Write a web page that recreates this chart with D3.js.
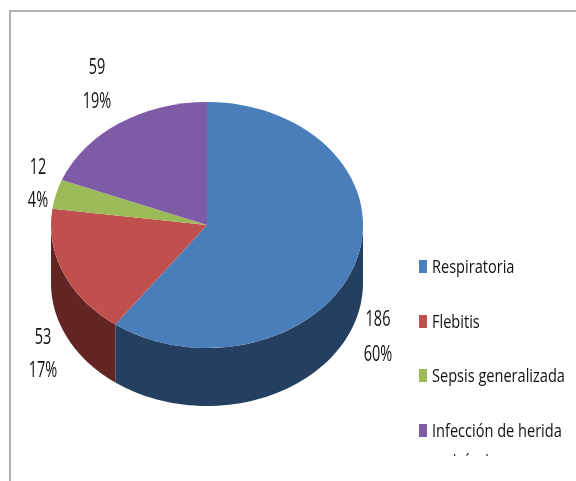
<!DOCTYPE html>
<html lang="en">
<head>
    <meta charset="UTF-8">
    <title>Infecciones</title>
    <script src="https://d3js.org/d3.v7.min.js"></script>
    <style>
        html, body { margin: 0; padding: 0; background: #fff; }
        svg { display: block; }
        text { font-family: "Open Sans", sans-serif; fill: #111; filter: blur(0.35px); }
    </style>
</head>
<body>
<svg width="576" height="481"></svg>
<script>

    const categories = ["Respiratoria", "Flebitis", "Sepsis generalizada", "Infección de herida quirúrgica"];
    const values = [186, 53, 12, 59];
    const percents = ["60%", "17%", "4%", "19%"];
    const topColors = ["#4a7ebb", "#c0504d", "#9bbb59", "#7d5ba6"];
    const sideColors = ["#243f60", "#632523", "#4f6228", "#3f2d54"];

    const w = 576, h = 481;
    const cx = 207, cy = 225, rx = 156, ry = 123, depth = 58;

    // label positions, one per category
    const labelX = [378, 43, 38, 97];
    const valueY = [326, 344, 174, 74];
    const percentY = [361, 377, 207, 108];
    const legendY = [273, 328, 382, 437];

    const narrowLabel = 0.69, narrowLegend = 0.81;

    const svg = d3.select("svg");

    // frame, open on the right and bottom
    svg.append("path")
        .attr("d", d3.line()([[w, 11], [10, 11], [10, h]]))
        .attr("fill", "none")
        .attr("stroke", "#999")
        .attr("stroke-width", 1.5);

    const slices = d3.pie().sort(null)(values);
    const arc = d3.arc().innerRadius(0).outerRadius(rx);
    const squash = ry / rx;

    // walls: only the front half of the ellipse is visible
    const wall = d3.area()
        .x(a => cx + rx * Math.sin(a))
        .y0(a => cy - ry * Math.cos(a))
        .y1(a => cy - ry * Math.cos(a) + depth);

    slices.forEach((s, i) => {
        const start = Math.max(s.startAngle, Math.PI / 2);
        const end = Math.min(s.endAngle, 3 * Math.PI / 2);
        if (end <= start) return;
        svg.append("path")
            .attr("d", wall(d3.range(0, 61).map(k => start + (end - start) * k / 60)))
            .attr("fill", sideColors[i]);
    });

    svg.append("g")
        .attr("transform", `translate(${cx},${cy}) scale(1,${squash})`)
        .selectAll("path")
        .data(slices)
        .enter()
        .append("path")
        .attr("d", arc)
        .attr("fill", (d, i) => topColors[i]);

    // value and percent labels
    const labels = svg.append("g")
        .attr("text-anchor", "middle")
        .attr("font-size", 21);

    values.forEach((v, i) => {
        labels.append("text")
            .attr("transform", `translate(${labelX[i]},${valueY[i]}) scale(${narrowLabel},1)`)
            .text(v);
        labels.append("text")
            .attr("transform", `translate(${labelX[i]},${percentY[i]}) scale(${narrowLabel},1)`)
            .text(percents[i]);
    });

    // legend; the last entry wraps and its second line is cut off
    svg.append("clipPath").attr("id", "legendClip")
        .append("rect").attr("x", 400).attr("y", 240).attr("width", 176).attr("height", 217);

    const legend = svg.append("g").attr("clip-path", "url(#legendClip)");

    categories.forEach((c, i) => {
        legend.append("rect")
            .attr("x", 419).attr("y", legendY[i] - 13)
            .attr("width", 8).attr("height", 13)
            .attr("fill", topColors[i]);
        const lines = i === 3 ? ["Infección de herida", "quirúrgica"] : [c];
        lines.forEach((t, k) => {
            legend.append("text")
                .attr("transform", `translate(${k === 0 ? 432 : 435},${legendY[i] + k * 30}) scale(${narrowLegend},1)`)
                .attr("font-size", 18)
                .text(t);
        });
    });
</script>

</body>
</html>
